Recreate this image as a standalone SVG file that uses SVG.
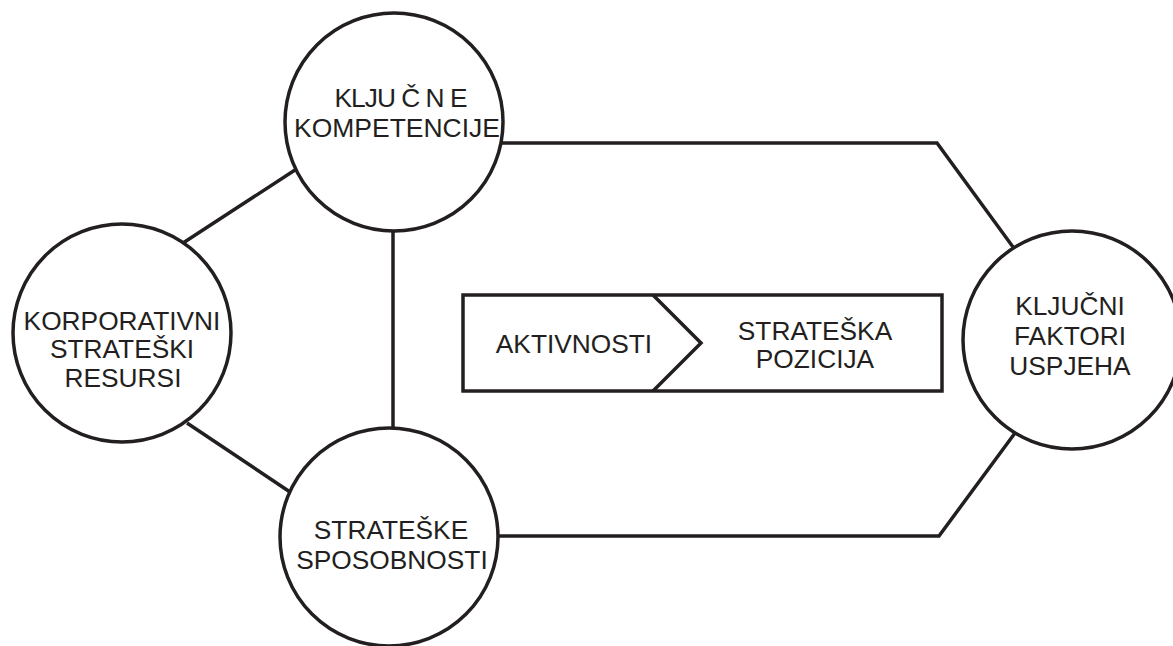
<svg xmlns="http://www.w3.org/2000/svg" width="1173" height="646" viewBox="0 0 1173 646">
<style>
.n{fill:#fff;stroke:#231f20;stroke-width:3.5}
.c{fill:none;stroke:#231f20;stroke-width:3.5;stroke-linejoin:miter}
text{font-family:"Liberation Sans",Arial,sans-serif;font-size:26.3px;fill:#231f20;text-anchor:middle}
</style>
<rect width="1173" height="646" fill="#fff"/>
<g id="connectors">
<line class="c" x1="295" y1="170" x2="183" y2="243"/>
<line class="c" x1="393" y1="231" x2="393" y2="428"/>
<line class="c" x1="187" y1="423" x2="290" y2="492"/>
<polyline class="c" points="501,143 937,143 1013,247"/>
<polyline class="c" points="498,536 939,536 1015,433"/>
</g>
<g id="kljucne">
<circle class="n" cx="394" cy="122" r="109"/>
<text x="401" y="107" textLength="133" lengthAdjust="spacing">KLJU Č N E</text>
<text x="397" y="137" textLength="206" lengthAdjust="spacingAndGlyphs">KOMPETENCIJE</text>
</g>
<g id="korporativni">
<circle class="n" cx="122" cy="333" r="109"/>
<text x="122" y="330">KORPORATIVNI</text>
<text x="122" y="358">STRATEŠKI</text>
<text x="123" y="387">RESURSI</text>
</g>
<g id="strateske">
<circle class="n" cx="389" cy="537" r="109"/>
<text x="391" y="539">STRATEŠKE</text>
<text x="392" y="569">SPOSOBNOSTI</text>
</g>
<g id="kfu">
<circle class="n" cx="1072" cy="340" r="109"/>
<text x="1070" y="315">KLJUČNI</text>
<text x="1070" y="345">FAKTORI</text>
<text x="1070" y="375">USPJEHA</text>
</g>
<g id="box">
<rect class="n" x="463" y="295" width="479" height="96"/>
<polyline class="c" points="653,295 701,343 653,391"/>
<text x="574" y="353">AKTIVNOSTI</text>
<text x="815" y="340">STRATEŠKA</text>
<text x="815" y="368">POZICIJA</text>
</g>
</svg>
